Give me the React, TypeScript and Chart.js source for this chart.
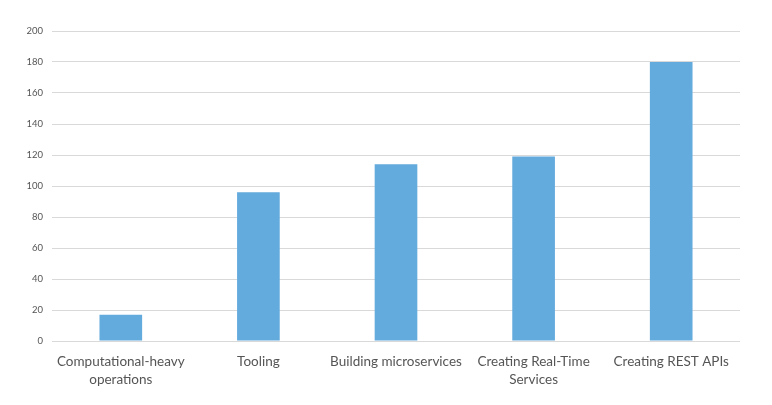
import React, { useEffect, useRef } from "react";
import { Chart, registerables } from "chart.js";

Chart.register(...registerables);

const categories: (string | string[])[] = [
  ["Computational-heavy", "operations"],
  "Tooling",
  "Building microservices",
  ["Creating Real-Time", "Services"],
  "Creating REST APIs",
];
const values: number[] = [17, 96, 114, 119, 180];
const yMin = 0;
const yMax = 200;
const yStep = 20;

export default function App() {
  const ref = useRef<HTMLCanvasElement | null>(null);
  useEffect(() => {
    if (!ref.current) return;
    const chart = new Chart(ref.current, {
      type: "bar",
      data: {
        labels: categories,
        datasets: [
          {
            data: values,
            backgroundColor: "#63aadd",
            borderWidth: 0,
            categoryPercentage: 1,
            barPercentage: 0.31,
          },
        ],
      },
      options: {
        responsive: false,
        animation: false,
        layout: { padding: { left: 0, right: 32, top: 31, bottom: 0 } },
        plugins: { legend: { display: false }, tooltip: { enabled: false } },
        scales: {
          x: {
            grid: { display: false },
            border: { display: false },
            ticks: {
              color: "#555555",
              padding: 4,
              maxRotation: 0,
              autoSkip: false,
              font: { family: "Lato", size: 13.5, lineHeight: 1.33 },
            },
            afterFit: (s: any) => {
              s.height = 64;
            },
          },
          y: {
            min: yMin,
            max: yMax,
            grid: { color: "#d9d9d9", drawTicks: false, lineWidth: 1 },
            border: { display: false },
            ticks: {
              stepSize: yStep,
              color: "#555555",
              padding: 9,
              font: { family: "Lato", size: 9.5 },
            },
            afterFit: (s: any) => {
              s.width = 52;
            },
          },
        },
      },
    });
    return () => chart.destroy();
  }, []);
  return (
    <div style={{ position: "fixed", left: 0, top: 0, width: 772, height: 405, background: "#fff" }}>
      <canvas ref={ref} width={772} height={405} style={{ width: 772, height: 405 }} />
    </div>
  );
}
